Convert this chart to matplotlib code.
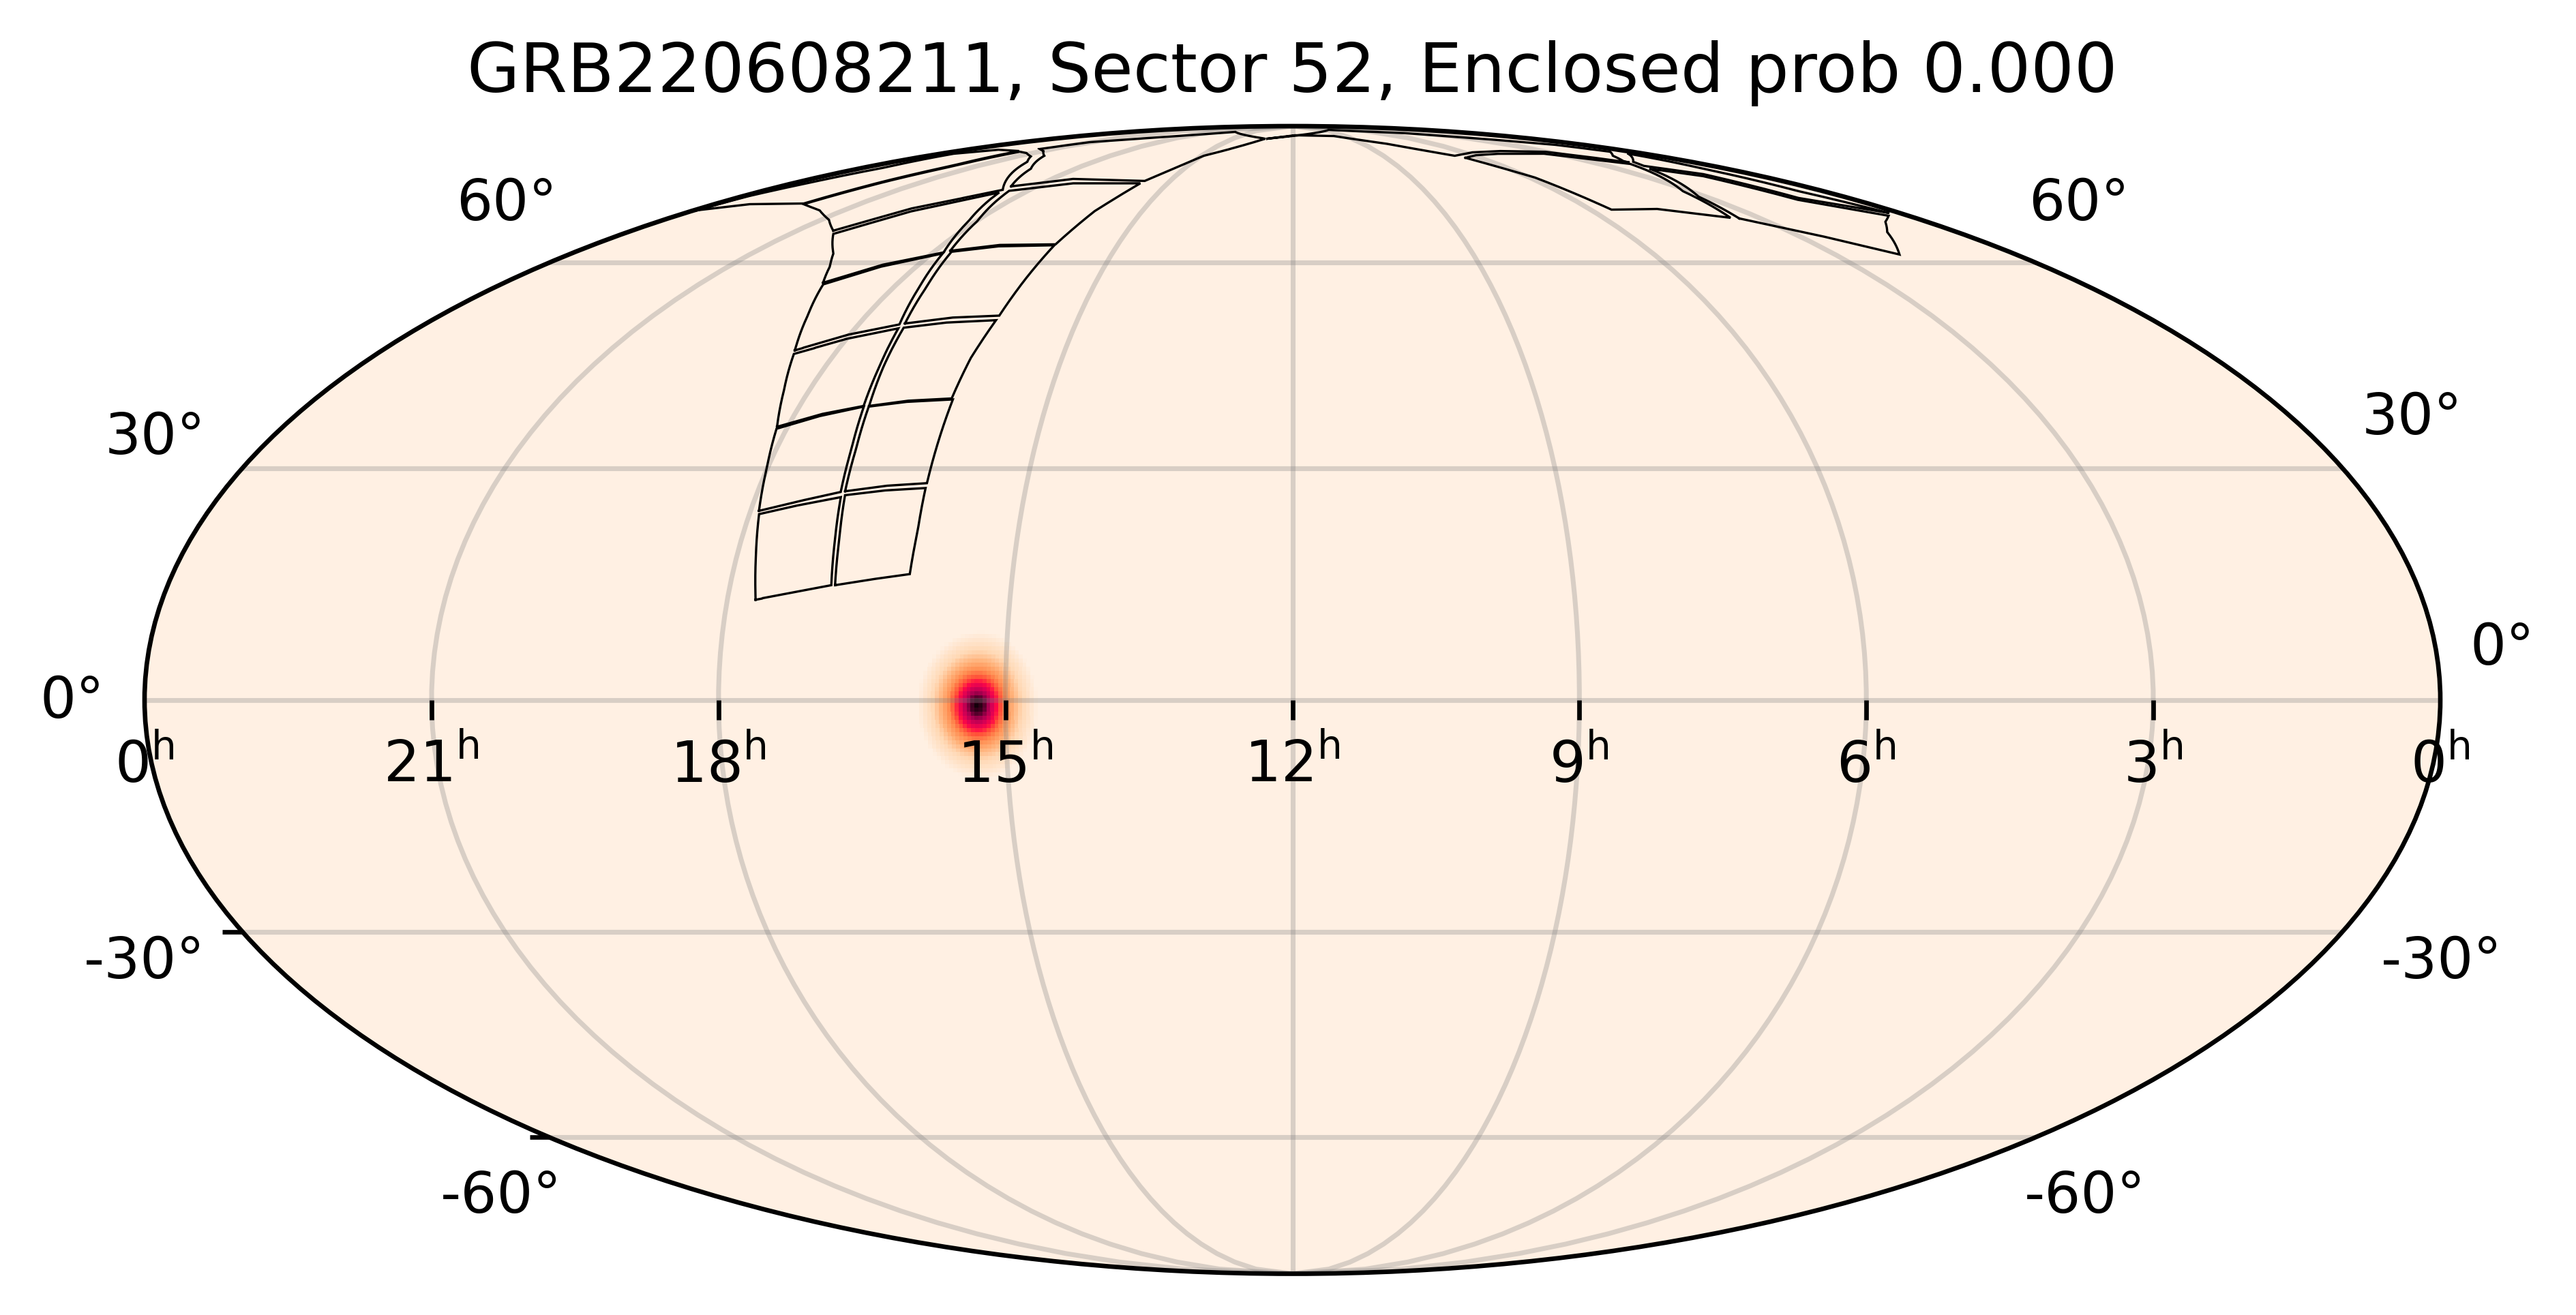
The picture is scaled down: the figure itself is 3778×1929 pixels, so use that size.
import numpy as np
import matplotlib
matplotlib.use("Agg")
import matplotlib.pyplot as plt
from matplotlib.colors import LinearSegmentedColormap

TITLE = "GRB220608211, Sector 52, Enclosed prob 0.000"
RA_TICK_HOURS = [21, 18, 15, 12, 9, 6, 3]
RA_LABEL_HOURS = [24, 21, 18, 15, 12, 9, 6, 3, 0]
DEC_GRID = [-60, -30, 0, 30, 60]
DEC_OUTER_TICKS = [-30, -60]

# GRB localisation: centre and radial profile
GRB_RA = 229.4
GRB_DEC = -0.7
PROFILE_RADIUS_DEG = [0, 1.0, 1.7, 2.4, 3.0, 3.6, 4.5, 5.6, 7.0, 9.5, 30.0]
PROFILE_LEVEL = [1.0, 0.90, 0.72, 0.62, 0.55, 0.45, 0.36, 0.22, 0.10, 0.0, 0.0]
CMAP_POS = [0, 0.10, 0.22, 0.36, 0.45, 0.55, 0.62, 0.72, 0.90, 1.0]
CMAP_COL = ["#fff0e3", "#ffd8b4", "#ffb078", "#ff8c50", "#ff5038", "#ff0a46",
            "#dc0055", "#aa0050", "#500028", "#0a0005"]

# Footprint outlines (RA, Dec in degrees)
a_ra = [265.5,259.7,253.8,254.7,255.7,262.2,268.4,266.9]
a_dec = [12.81,13.73,14.65,20.48,26.13,25.09,23.89,18.36]
b_ra = [253.2,247.4,241.5,241.5,241.9,248.4,255.1,254.0]
b_dec = [14.65,15.41,16.08,21.75,27.34,27.04,26.39,20.48]
c_ra = [268.6,262.4,256.0,256.9,258.2,265.1,271.8,270.1]
c_dec = [24.32,25.61,26.82,32.59,38.42,37.15,35.35,29.95]
d_ra = [255.3,248.7,241.9,242.2,242.5,250.6,257.3,256.1]
d_dec = [26.91,27.64,27.99,33.70,39.42,39.10,38.42,32.59]
e_ra = [271.9,265.2,258.3,259.6,261.1,269.9,278.0,274.7]
e_dec = [35.62,37.37,38.51,44.19,49.69,48.14,45.94,40.70]
f_ra = [257.3,250.7,242.8,242.8,242.0,251.9,260.1,258.8]
f_dec = [38.51,39.24,39.56,45.37,50.92,50.57,49.79,44.19]
g_ra = [278.4,270.5,261.5,264.2,267.3,278.3,286.7,282.4]
g_dec = [46.46,48.72,50.28,55.95,61.50,59.35,56.46,51.66]
h_ra = [260.5,251.7,241.9,241.6,241.2,255.1,265.6,262.6]
h_dec = [50.42,51.31,51.61,57.24,62.88,62.71,61.78,55.95]
i_ra = [287.2,278.7,267.4,272.2,278.5,293.9,303.4,294.6,290.7]
i_dec = [56.72,59.61,61.67,67.15,72.48,68.94,64.84,61.50,59.35]
j_ra = [266.2,255.5,241.1,239.2,234.8,259.0,276.3,269.7]
j_dec = [61.94,62.93,63.04,68.94,74.32,74.32,72.81,67.15]
k_ra = [305.1,295.7,279.2,299.6,307.9,317.7,324.8,325.0,328.6,332.2,322.2,312.7]
k_dec = [65.40,69.44,73.01,78.96,80.25,81.08,81.42,78.03,74.67,70.24,69.09,67.34]
l_ra = [359.1,349.2,332.8,329.5,326.2,327.1,342.2,353.3,351.4,354.5,358.1]
l_dec = [69.09,70.24,70.37,74.81,78.19,81.59,81.94,80.91,77.73,74.81,71.80]
m_ra = [278.9,262.1,234.3,223.8,200.5,243.3,286.9,315.3,321.6,313.9,302.6,288.5]
m_dec = [73.70,75.23,74.81,80.41,84.94,87.18,85.36,83.95,82.11,81.59,80.41,77.43]
n_ra = [199.0,178.2,145.3,120.5,99.8,86.0,68.8,46.0,36.3,29.2,29.2,21.7,11.3,17.3,32.4,64.6,130.4]
n_dec = [84.94,86.01,85.79,83.57,80.41,81.25,81.59,81.42,80.08,78.81,79.12,80.41,81.42,83.20,84.54,86.69,87.96]
o_ra = [97.2,88.1,83.7,69.5,53.3,47.6,32.9,31.6,40.7,51.0,74.3,88.0]
o_dec = [79.92,75.52,69.21,69.34,67.71,72.74,78.03,78.49,79.60,80.91,80.91,80.58]
p_ra = [51.2,39.4,29.0,18.9,11.9,5.8,18.3,22.3,31.9,47.4]
p_dec = [67.59,64.57,61.32,65.16,66.97,68.08,71.02,75.81,77.43,71.67]
q_ra = [8.1,9.6,8.4,3.1,16.2,19.1,29.4,26.3]
q_dec = [80.91,77.43,72.74,68.58,71.41,76.24,78.03,78.96]

TILES = [(a_ra, a_dec), (b_ra, b_dec), (c_ra, c_dec), (d_ra, d_dec), (e_ra, e_dec),
         (f_ra, f_dec), (g_ra, g_dec), (h_ra, h_dec), (i_ra, i_dec), (j_ra, j_dec),
         (k_ra, k_dec), (l_ra, l_dec), (m_ra, m_dec), (n_ra, n_dec), (o_ra, o_dec),
         (p_ra, p_dec), (q_ra, q_dec)]

# Declination labels: text and where it sits, in image pixels
DEC_LABELS = ["60°", "30°", "0°", "-30°", "-60°", "60°", "30°", "0°", "-30°", "-60°"]
DEC_LABEL_X = [743, 228, 106, 212, 735, 3049, 3538, 3670, 3581, 3058]
DEC_LABEL_Y = [300, 643, 1029, 1411, 1756, 300, 613, 951, 1411, 1756]

W, H = 3779, 1929
DPI = 600
fig = plt.figure(figsize=(W / DPI, H / DPI), dpi=DPI)
ax = fig.add_axes([212 / W, (H - 1868.5) / H, 3367 / W, 1683.5 / H], projection="mollweide")


def lon_of(ra):
    return np.radians(180.0 - np.asarray(ra, dtype=float))


cmap = LinearSegmentedColormap.from_list("cylon_like", list(zip(CMAP_POS, CMAP_COL)), N=512)
ax.set_facecolor(CMAP_COL[0])

# localisation patch
ra_edges = np.arange(GRB_RA - 20, GRB_RA + 20.01, 0.62)
dec_edges = np.arange(GRB_DEC - 20, GRB_DEC + 20.01, 0.52)
ra_mid = 0.5 * (ra_edges[:-1] + ra_edges[1:])
dec_mid = 0.5 * (dec_edges[:-1] + dec_edges[1:])
rr, dd = np.meshgrid(ra_mid, dec_mid)
sep = np.hypot((rr - GRB_RA) * np.cos(np.radians(dd)), dd - GRB_DEC)
density = np.interp(sep, PROFILE_RADIUS_DEG, PROFILE_LEVEL)
ax.pcolormesh(lon_of(ra_edges), np.radians(dec_edges), density, cmap=cmap, vmin=0, vmax=1,
              shading="flat", antialiased=False, linewidth=0, zorder=1)

# grid
ax.set_longitude_grid_ends(90)
ax.set_xticks(lon_of([h * 15 for h in RA_TICK_HOURS]))
ax.set_yticks(np.radians(DEC_GRID))
ax.set_xticklabels([])
ax.set_yticklabels([])
ax.grid(True, color="#808080", alpha=0.3, linewidth=0.85)

# footprints
for ra, dec in TILES:
    x = np.append(lon_of(ra), lon_of(ra)[0])
    y = np.radians(np.append(dec, dec[0]))
    ax.plot(x, y, color="black", linewidth=0.4, solid_joinstyle="miter", zorder=3)

# tick marks
ax.plot(lon_of([h * 15 for h in RA_TICK_HOURS]), np.zeros(len(RA_TICK_HOURS)),
        linestyle="none", marker=3, markersize=3.5, markeredgewidth=0.8, color="black",
        zorder=4, clip_on=False)
ax.plot(np.full(len(DEC_OUTER_TICKS), -np.pi), np.radians(DEC_OUTER_TICKS),
        linestyle="none", marker=0, markersize=3.5, markeredgewidth=0.8, color="black",
        zorder=4, clip_on=False)

# hour labels
for h in RA_LABEL_HOURS:
    lon = -np.pi if h == 24 else (np.pi if h == 0 else lon_of(h * 15))
    txt = "0" if h in (0, 24) else str(h)
    ax.annotate(r"$\mathregular{%s^{h}}$" % txt, (lon, 0), xytext=(0, -11.6),
                textcoords="offset points", ha="center", va="center", fontsize=10,
                zorder=5, annotation_clip=False)

# declination labels
for s, x, y in zip(DEC_LABELS, DEC_LABEL_X, DEC_LABEL_Y):
    fig.text(x / W, 1 - y / H, s, ha="center", va="center", fontsize=10)

ax.set_title(TITLE, fontsize=12, pad=6)
for sp in ax.spines.values():
    sp.set_linewidth(0.8)

fig.savefig("out.png", dpi=DPI, facecolor="white")
